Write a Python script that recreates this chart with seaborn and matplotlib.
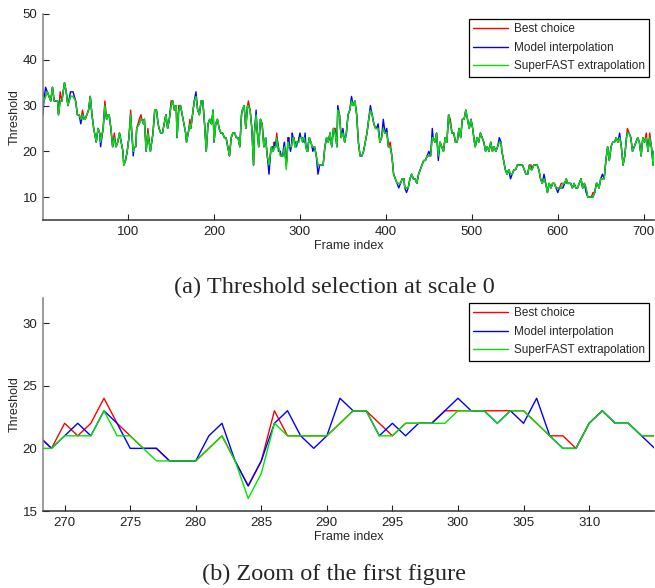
import pandas as pd
import matplotlib
matplotlib.use('Agg')
from matplotlib import pyplot as plt
import seaborn as sns

methods = ['Best choice', 'Model interpolation', 'SuperFAST extrapolation']
colours = ['#ff0000', '#0000ff', '#00e600']

# coarse trace of the whole run (SuperFAST line, drawn on top of the others)
full_idx = [1, 2, 4, 6, 8, 10, 12, 14, 16, 18, 19, 21, 23, 26, 28, 30, 33, 36, 39, 41,
            43, 45, 47, 49, 50, 52, 54, 56, 58, 60, 62, 63, 65, 67, 68, 71, 73, 75, 77, 78,
            80, 82, 84, 86, 88, 90, 92, 94, 95, 97, 99, 101, 103, 104, 106, 107, 109, 110, 113, 115,
            116, 118, 119, 121, 123, 126, 129, 131, 133, 135, 136, 138, 140, 142, 144, 146, 148, 150, 152, 154,
            156, 157, 159, 161, 163, 165, 167, 168, 170, 172, 173, 175, 177, 179, 181, 183, 185, 187, 189, 191,
            193, 195, 197, 199, 200, 202, 204, 206, 208, 210, 212, 214, 216, 218, 220, 222, 224, 226, 228, 230,
            232, 233, 235, 237, 239, 240, 242, 244, 246, 247, 249, 250, 252, 254, 256, 258, 260, 262, 264, 266,
            267,
            317, 319, 321, 323, 325, 327, 329, 331, 333, 335, 337, 339, 341, 343, 344, 346, 348, 350, 352, 354,
            356, 358, 360, 362, 364, 366, 368, 370, 372, 374, 376, 378, 380, 382, 384, 386, 388, 389, 391, 393,
            395, 397, 399, 401, 403, 405, 407, 409, 411, 413, 415, 417, 419, 421, 422, 424, 426, 428, 430, 432,
            434, 436, 438, 440, 442, 444, 446, 448, 450, 452, 454, 455, 457, 459, 461, 463, 465, 467, 469, 471,
            473, 475, 477, 479, 481, 483, 485, 487, 489, 491, 493, 495, 497, 499, 501, 503, 504, 506, 508, 510,
            512, 514, 516, 518, 520, 522, 524, 526, 528, 530, 532, 534, 535, 537, 539, 541, 543, 545, 547, 549,
            551, 553, 555, 557, 559, 561, 563, 565, 567, 569, 570, 572, 574, 576, 578, 580, 582, 584, 586, 588,
            590, 592, 594, 596, 598, 600, 602, 604, 606, 608, 610, 611, 613, 615, 617, 619, 621, 623, 625, 627,
            629, 631, 633, 635, 637, 639, 641, 643, 645, 646, 648, 650, 652, 654, 656, 658, 660, 662, 664, 666,
            668, 670, 672, 674, 676, 678, 680, 681, 683, 685, 687, 689, 691, 693, 695, 697, 699, 701, 703, 705,
            707, 709, 711, 712]
full_fast = [32, 31, 32, 33, 32, 31, 34, 31, 31, 31, 28, 31, 31, 35, 33, 30, 32, 32, 31, 28,
             28, 27, 28, 27, 27, 28, 29, 32, 28, 25, 23, 22, 25, 24, 22, 25, 30, 27, 28, 28,
             25, 21, 23, 21, 22, 24, 22, 20, 17, 18, 20, 23, 28, 25, 20, 21, 21, 25, 26, 27,
             27, 26, 27, 20, 24, 20, 24, 29, 29, 26, 25, 24, 24, 26, 28, 25, 27, 30, 31, 29,
             30, 23, 29, 30, 28, 26, 24, 22, 24, 26, 25, 28, 31, 32, 29, 28, 31, 31, 26, 20,
             26, 27, 26, 29, 22, 26, 27, 25, 24, 24, 23, 23, 21, 19, 23, 24, 24, 23, 23, 21,
             28, 29, 30, 25, 30, 30, 29, 25, 17, 24, 28, 25, 21, 27, 26, 21, 23, 19, 17, 20,
             21,
             21, 19, 17, 17, 17, 17, 21, 23, 22, 24, 21, 25, 24, 21, 29, 28, 23, 24, 22, 24,
             28, 29, 31, 30, 31, 28, 22, 19, 19, 20, 22, 24, 27, 29, 28, 26, 25, 25, 25, 22,
             23, 25, 24, 24, 21, 21, 19, 15, 14, 13, 13, 13, 14, 14, 12, 12, 12, 14, 15, 14,
             14, 13, 15, 16, 17, 18, 18, 19, 19, 19, 23, 23, 22, 24, 19, 22, 21, 20, 23, 22,
             28, 26, 24, 24, 22, 22, 25, 23, 27, 27, 29, 27, 25, 27, 25, 22, 21, 23, 22, 24,
             23, 22, 20, 21, 20, 22, 20, 21, 20, 21, 22, 22, 20, 18, 16, 15, 16, 15, 15, 16,
             16, 17, 17, 17, 17, 16, 15, 15, 17, 16, 16, 17, 17, 17, 16, 14, 13, 14, 13, 11,
             13, 12, 13, 13, 12, 12, 12, 12, 13, 13, 14, 13, 13, 13, 12, 13, 12, 12, 13, 14,
             12, 13, 12, 10, 10, 10, 10, 11, 13, 13, 12, 14, 14, 14, 18, 21, 18, 21, 22, 22,
             23, 22, 23, 21, 17, 19, 23, 24, 24, 23, 20, 21, 22, 23, 22, 19, 23, 22, 23, 20,
             23, 21, 17, 20]

# frames where the red / blue lines stick out from under the green one
best_peaks = {1: 33, 21: 33, 47: 29, 73: 31, 84: 24, 103: 29, 113: 27, 115: 28, 123: 25,
              150: 31, 159: 30, 172: 27, 240: 31, 341: 25, 405: 22, 475: 27, 569: 17,
              604: 13, 641: 11, 681: 25, 703: 24, 707: 24}
model_peaks = {1: 28, 4: 34, 33: 33, 36: 33, 45: 26, 68: 21, 106: 19, 179: 33, 249: 29,
               264: 15, 321: 15, 344: 30, 350: 25, 360: 32, 382: 30, 391: 26, 397: 27,
               401: 25, 415: 12, 424: 11, 450: 20, 454: 25, 461: 18, 532: 23, 545: 14,
               584: 15, 600: 11, 606: 12, 633: 11, 652: 15, 672: 24}

# frame by frame
zoom_idx = list(range(268, 316))
zoom_best = [21, 20, 22, 21, 22, 24, 22, 21, 20, 20, 19, 19, 19, 20, 21, 19, 17, 19, 23, 21,
             21, 21, 21, 22, 23, 23, 22, 21, 22, 22, 22, 23, 23, 23, 23, 23, 23, 23, 22, 21,
             21, 20, 22, 23, 22, 22, 21, 21]
zoom_model = [21, 20, 21, 22, 21, 23, 22, 20, 20, 20, 19, 19, 19, 21, 22, 19, 17, 19, 22, 23,
              21, 20, 21, 24, 23, 23, 21, 22, 21, 22, 22, 23, 24, 23, 23, 22, 23, 22, 24, 21,
              20, 20, 22, 23, 22, 22, 21, 20]
zoom_fast = [20, 20, 21, 21, 21, 23, 21, 21, 20, 19, 19, 19, 19, 20, 21, 19, 16, 18, 22, 21,
             21, 21, 21, 22, 23, 23, 21, 21, 22, 22, 22, 22, 23, 23, 23, 22, 23, 23, 22, 21,
             20, 20, 22, 23, 22, 22, 21, 21]


def long_table(idx, best, model, fast):
    parts = []
    for name, vals in zip(methods, [best, model, fast]):
        parts.append(pd.DataFrame({'frame': idx, 'threshold': vals, 'method': name}))
    return pd.concat(parts, ignore_index=True)


full_best = [best_peaks.get(f, v) for f, v in zip(full_idx, full_fast)]
full_model = [model_peaks.get(f, v) for f, v in zip(full_idx, full_fast)]

zoom_df = long_table(zoom_idx, zoom_best, zoom_model, zoom_fast)
top_df = pd.concat([long_table(full_idx, full_best, full_model, full_fast), zoom_df])
top_df = top_df.sort_values(['method', 'frame'])

sns.set_style('white')
plt.rcParams['font.family'] = ['Liberation Sans', 'DejaVu Sans']

fig = plt.figure(figsize=(6.55, 5.88), dpi=100)
ax1 = fig.add_axes([43 / 655, 1 - 220 / 588, 611 / 655, 206 / 588])
ax2 = fig.add_axes([43 / 655, 1 - 511 / 588, 611 / 655, 213 / 588])

for ax, df in [(ax1, top_df), (ax2, zoom_df)]:
    sns.lineplot(data=df, x='frame', y='threshold', hue='method', hue_order=methods,
                 palette=colours, estimator=None, linewidth=1.0, ax=ax)
    ax.set_xlabel('Frame index', fontsize=9, labelpad=2)
    ax.set_ylabel('Threshold', fontsize=9, labelpad=1)
    for s in ['top', 'right']:
        ax.spines[s].set_visible(False)
    ax.spines['left'].set_color('#808080')
    ax.spines['bottom'].set_color('#333333')
    ax.spines['left'].set_linewidth(1.1)
    ax.spines['bottom'].set_linewidth(1.1)
    ax.tick_params(direction='in', length=4.5, width=0.8, labelsize=9.5, pad=4,
                   left=True, bottom=True, colors='#222222')
    ax.legend(loc='upper right', frameon=True, fancybox=False, edgecolor='black',
              fontsize=8.5, handlelength=3.0, borderpad=0.35, labelspacing=0.55,
              handletextpad=0.45, borderaxespad=0.45, framealpha=1)
    ax.get_legend().get_frame().set_linewidth(0.9)

ax1.set_xlim(1, 712)
ax1.set_ylim(5, 50)
ax1.set_xticks(range(100, 701, 100))
ax1.set_yticks(range(10, 51, 10))

ax2.set_xlim(268.35, 314.95)
ax2.set_ylim(15, 32)
ax2.set_xticks(range(270, 311, 5))
ax2.set_yticks(range(15, 31, 5))

fig.text(0.51, 1 - 287 / 588, '(a) Threshold selection at scale 0', ha='center', va='center',
         fontsize=17.5, family=['Liberation Serif', 'DejaVu Serif'])
fig.text(0.51, 1 - 574 / 588, '(b) Zoom of the first figure', ha='center', va='center',
         fontsize=17.5, family=['Liberation Serif', 'DejaVu Serif'])

fig.savefig('out.png', dpi=100)
